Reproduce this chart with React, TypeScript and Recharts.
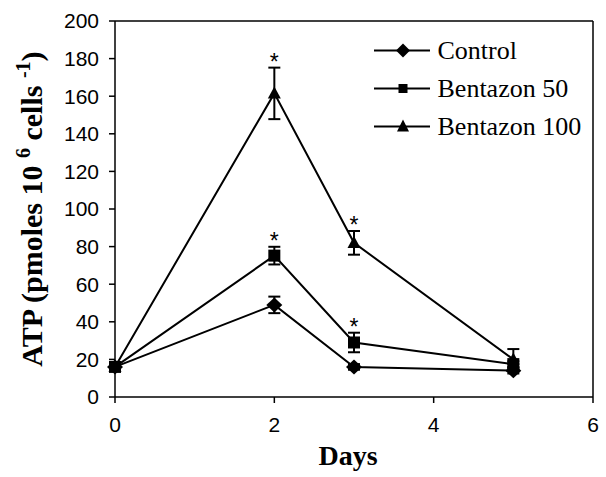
import React from 'react';
import { ComposedChart, Line, XAxis, YAxis, ErrorBar, Legend, ReferenceLine } from 'recharts';

const days = [0, 2, 3, 5];
const control = [16, 49, 16, 14];
const controlErr = [1, 4.4, 1.5, 1.5];
const bentazon50 = [16, 75.2, 29, 17.5];
const bentazon50Err = [1, 4.7, 5.2, 1.5];
const bentazon100 = [16, 161.5, 82, 20];
const bentazon100Err = [1, 13.7, 6.3, 5.5];
// asterisks marking significant differences
const sig50 = [false, true, true, false];
const sig100 = [false, true, true, false];

const xTicks = [0, 2, 4, 6];
const yTicks = [0, 20, 40, 60, 80, 100, 120, 140, 160, 180, 200];
const seriesNames = ['Control', 'Bentazon 50', 'Bentazon 100'];

const data = days.map((day, i) => ({
  day,
  control: control[i],
  controlErr: controlErr[i],
  b50: bentazon50[i],
  b50Err: bentazon50Err[i],
  b100: bentazon100[i],
  b100Err: bentazon100Err[i],
  star50: sig50[i] ? bentazon50[i] + bentazon50Err[i] : null,
  star100: sig100[i] ? bentazon100[i] + bentazon100Err[i] : null,
}));

const SANS = 'Liberation Sans, Arial, sans-serif';
const SERIF = 'Liberation Serif, Times New Roman, serif';

const Diamond = ({ cx, cy, w = 8, h = 7.5 }: any) => (
  <polygon points={`${cx},${cy - h} ${cx + w},${cy} ${cx},${cy + h} ${cx - w},${cy}`} fill="#000" />
);
const Square = ({ cx, cy, s = 6 }: any) => (
  <rect x={cx - s} y={cy - s} width={s * 2} height={s * 2} fill="#000" />
);
const Triangle = ({ cx, cy, w = 6.5, h = 12 }: any) => (
  <polygon points={`${cx},${cy - h * 0.58} ${cx + w},${cy + h * 0.42} ${cx - w},${cy + h * 0.42}`} fill="#000" />
);

const markers = [Diamond, Square, Triangle];

const dotFor = (Marker: any) => (p: any) => {
  if (p.cy == null || p.value == null) return <g key={p.index} />;
  return <Marker key={p.index} cx={p.cx} cy={p.cy} />;
};

const renderStar = (p: any) => {
  if (p.cy == null || p.value == null) return <g key={p.index} />;
  return (
    <text key={p.index} x={p.cx} y={p.cy + 2} textAnchor="middle" fontFamily={SANS} fontSize={23} fill="#000">
      *
    </text>
  );
};

const YTitle = ({ viewBox }: any) => {
  const cx = viewBox.x + 41.5;
  const cy = viewBox.y + viewBox.height / 2;
  return (
    <text
      x={cx}
      y={cy}
      transform={`rotate(-90, ${cx}, ${cy})`}
      textAnchor="middle"
      fontFamily={SERIF}
      fontWeight="bold"
      fontSize={30}
      fill="#000"
    >
      {'ATP (pmoles 10 '}
      <tspan fontSize={20} dy={-12}>6</tspan>
      <tspan dy={12}>{' cells '}</tspan>
      <tspan fontSize={20} dy={-12}>-1</tspan>
      <tspan dy={12}>)</tspan>
    </text>
  );
};

const XTitle = ({ viewBox }: any) => (
  <text
    x={viewBox.x + viewBox.width / 2 - 6}
    y={viewBox.y + 68}
    textAnchor="middle"
    fontFamily={SERIF}
    fontWeight="bold"
    fontSize={28}
    fill="#000"
  >
    Days
  </text>
);

const LegendContent = () => (
  <svg width={236} height={120}>
    {seriesNames.map((name, i) => {
      const Marker = markers[i];
      const y = 22.5 + i * 38;
      return (
        <g key={name}>
          <line x1={6} x2={62} y1={y} y2={y} stroke="#000" strokeWidth={2} />
          {i === 0 && <Marker cx={35} cy={y} w={7} h={7} />}
          {i === 1 && <Marker cx={35} cy={y} s={4.5} />}
          {i === 2 && <Marker cx={35} cy={y} w={6} h={12} />}
          <text x={69.5} y={y + 8.5} fontFamily={SERIF} fontSize={26} fill="#000">
            {name}
          </text>
        </g>
      );
    })}
  </svg>
);

export default function App() {
  return (
    <div style={{ position: 'absolute', left: 0, top: 0, background: '#fff' }}>
      <ComposedChart width={606} height={477} data={data} margin={{ top: 21, right: 13, bottom: 0, left: 0 }}>
        <XAxis
          type="number"
          dataKey="day"
          domain={[0, 6]}
          ticks={xTicks}
          height={80}
          tickSize={6}
          tickMargin={14}
          axisLine={{ stroke: '#000', strokeWidth: 1.5 }}
          tickLine={{ stroke: '#000', strokeWidth: 1.5 }}
          tick={{ fill: '#000', fontSize: 21, fontFamily: SANS }}
          label={<XTitle />}
        />
        <YAxis
          type="number"
          domain={[0, 200]}
          ticks={yTicks}
          width={115}
          tickSize={6}
          tickMargin={10}
          axisLine={{ stroke: '#000', strokeWidth: 1.5 }}
          tickLine={{ stroke: '#000', strokeWidth: 1.5 }}
          tick={{ fill: '#000', fontSize: 21, fontFamily: SANS }}
          label={<YTitle />}
        />
        <ReferenceLine y={200} stroke="#000" strokeWidth={1.5} />
        <ReferenceLine x={6} stroke="#000" strokeWidth={1.5} />
        <Legend
          layout="horizontal"
          verticalAlign="middle"
          align="center"
          wrapperStyle={{ position: 'absolute', left: 368, top: 28, width: 236, height: 120 }}
          content={<LegendContent />}
        />
        <Line dataKey="control" stroke="#000" strokeWidth={2} dot={dotFor(Diamond)} activeDot={false} isAnimationActive={false}>
          <ErrorBar dataKey="controlErr" direction="y" width={6} stroke="#000" strokeWidth={2} />
        </Line>
        <Line dataKey="b50" stroke="#000" strokeWidth={2} dot={dotFor(Square)} activeDot={false} isAnimationActive={false}>
          <ErrorBar dataKey="b50Err" direction="y" width={6} stroke="#000" strokeWidth={2} />
        </Line>
        <Line dataKey="b100" stroke="#000" strokeWidth={2} dot={dotFor(Triangle)} activeDot={false} isAnimationActive={false}>
          <ErrorBar dataKey="b100Err" direction="y" width={6} stroke="#000" strokeWidth={2} />
        </Line>
        <Line dataKey="star50" stroke="none" dot={renderStar} activeDot={false} legendType="none" isAnimationActive={false} />
        <Line dataKey="star100" stroke="none" dot={renderStar} activeDot={false} legendType="none" isAnimationActive={false} />
      </ComposedChart>
    </div>
  );
}
